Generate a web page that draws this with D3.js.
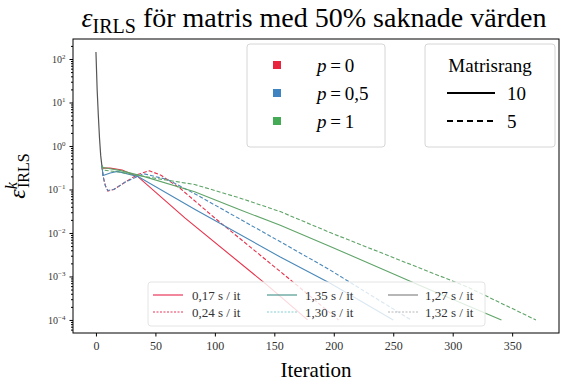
<!DOCTYPE html>
<html lang="sv">
<head>
<meta charset="UTF-8">
<script src="https://d3js.org/d3.v7.min.js"></script>
<style>
  body { margin: 0; background: #fff; }
  svg, svg text { font-family: "Liberation Serif", "DejaVu Serif", serif; }
</style>
</head>
<body>
<div id="chart"></div>
<script>
const serif = "'Liberation Serif', 'DejaVu Serif', serif";

// gemensam start, alla kurvor ligger ovanpå varandra här
const headIter = [0, 1, 2, 3, 4, 5];
const headVal = [145, 20, 5, 1.5, 0.6, 0.35];

// p = 0
const p0r10Iter = [5, 6, 12, 22, 35, 75, 144, 178];
const p0r10Val = [0.35, 0.31, 0.31, 0.28, 0.2, 0.022, 6.3e-4, 1e-4];
const p0r5Iter = [5, 6, 8, 10, 15, 25, 35, 45, 55, 71, 100, 169, 204];
const p0r5Val = [0.35, 0.2, 0.12, 0.092, 0.1, 0.15, 0.22, 0.27, 0.21, 0.105, 0.022, 6.3e-4, 1e-4];
// p = 0,5
const p05r10Iter = [5, 6, 12, 18, 35, 83, 155, 197, 250];
const p05r10Val = [0.35, 0.21, 0.24, 0.26, 0.2, 0.035, 0.0028, 7e-4, 1e-4];
const p05r5Iter = [5, 6, 8, 10, 15, 25, 40, 60, 83, 155, 197, 265];
const p05r5Val = [0.35, 0.2, 0.12, 0.095, 0.1, 0.15, 0.23, 0.17, 0.08, 0.0063, 0.0014, 1e-4];
// p = 1
const p1r10Iter = [5, 6, 20, 40, 83, 120, 155, 197, 272, 341];
const p1r10Val = [0.35, 0.32, 0.275, 0.2, 0.089, 0.035, 0.015, 0.0049, 6.3e-4, 1e-4];
const p1r5Iter = [5, 6, 20, 45, 83, 120, 155, 197, 312, 370];
const p1r5Val = [0.35, 0.28, 0.25, 0.19, 0.13, 0.065, 0.031, 0.0102, 5.8e-4, 1e-4];

const pLabels = ["0", "0,5", "1"];
const rankLabels = ["10", "5"];
const timeLabels = ["0,17 s / it", "0,24 s / it", "1,35 s / it", "1,30 s / it", "1,27 s / it", "1,32 s / it"];
const xTicks = [0, 50, 100, 150, 200, 250, 300, 350];
const yExp = [-4, -3, -2, -1, 0, 1, 2];

const series = [
  { p: "0", rank: "10", iter: p0r10Iter, val: p0r10Val },
  { p: "0", rank: "5", iter: p0r5Iter, val: p0r5Val },
  { p: "0,5", rank: "10", iter: p05r10Iter, val: p05r10Val },
  { p: "0,5", rank: "5", iter: p05r5Iter, val: p05r5Val },
  { p: "1", rank: "10", iter: p1r10Iter, val: p1r10Val },
  { p: "1", rank: "5", iter: p1r5Iter, val: p1r5Val }
];

const pColor = { "0": "#e8243f", "0,5": "#3f84c0", "1": "#45aa55" };
const lineColor = { "0": "#e8304a", "0,5": "#4a88b8", "1": "#5fa468" };
const rankDash = { "10": null, "5": "4,2" };
const timeColor = ["#e8365a", "#e8365a", "#4f9a92", "#86cfd8", "#888888", "#b8b8b8"];

const W = 570, H = 385;
const margin = { top: 39, right: 11, bottom: 52, left: 73 };

const svg = d3.select("#chart").append("svg")
  .attr("width", W).attr("height", H)
  .attr("font-family", serif);

const x = d3.scaleLinear().domain([-19.3, 389.4]).range([margin.left, W - margin.right]);
const y = d3.scaleLog().domain([Math.pow(10, -4.3), Math.pow(10, 2.46)]).range([H - margin.bottom, margin.top]);

svg.append("defs").append("clipPath").attr("id", "clip")
  .append("rect")
  .attr("x", margin.left).attr("y", margin.top)
  .attr("width", W - margin.left - margin.right)
  .attr("height", H - margin.top - margin.bottom);

// axlar
const xAxis = svg.append("g")
  .attr("transform", `translate(0,${H - margin.bottom})`)
  .call(d3.axisBottom(x).tickValues(xTicks).tickSize(3.5).tickPadding(5).tickFormat(d3.format("d")))
  .attr("font-family", serif);
xAxis.select(".domain").remove();
xAxis.selectAll("text").style("font-size", "12px").attr("fill", "#333");

const minor = [];
yExp.concat([-5]).forEach(e => {
  for (let m = 2; m <= 9; m++) {
    const v = m * Math.pow(10, e);
    if (v > y.domain()[0] && v < y.domain()[1]) minor.push(v);
  }
});
svg.append("g")
  .attr("transform", `translate(${margin.left},0)`)
  .call(d3.axisLeft(y).tickValues(minor).tickSize(2).tickFormat(""))
  .select(".domain").remove();

const yAxis = svg.append("g")
  .attr("transform", `translate(${margin.left},0)`)
  .call(d3.axisLeft(y).tickValues(yExp.map(e => Math.pow(10, e))).tickSize(3.5).tickPadding(4).tickFormat(""))
  .attr("font-family", serif);
yAxis.select(".domain").remove();
yAxis.selectAll(".tick text").each(function (d) {
  const t = d3.select(this).attr("fill", "#333").attr("dy", "0.32em");
  const e = Math.round(Math.log10(d));
  t.append("tspan").style("font-size", "10px").text("10");
  t.append("tspan").style("font-size", "7px").attr("dy", "-4")
    .text(e < 0 ? "\u2212" + (-e) : e);
});

// kurvor
const line = d3.line().x(d => x(d[0])).y(d => y(d[1]));
const plot = svg.append("g").attr("clip-path", "url(#clip)");

series.forEach(s => {
  plot.append("path")
    .datum(s.iter.map((it, i) => [it, s.val[i]]))
    .attr("d", line)
    .attr("fill", "none")
    .attr("stroke", lineColor[s.p])
    .attr("stroke-width", 1.1)
    .attr("stroke-dasharray", rankDash[s.rank]);
});
plot.append("path")
  .datum(headIter.map((it, i) => [it, headVal[i]]))
  .attr("d", line)
  .attr("fill", "none")
  .attr("stroke", "#555")
  .attr("stroke-width", 1.2);

svg.append("rect")
  .attr("x", margin.left).attr("y", margin.top)
  .attr("width", W - margin.left - margin.right)
  .attr("height", H - margin.top - margin.bottom)
  .attr("fill", "none").attr("stroke", "#000").attr("stroke-width", 1);

// titel
const title = svg.append("text")
  .attr("x", (margin.left + W - margin.right) / 2 - 2).attr("y", 27)
  .attr("text-anchor", "middle").style("font-size", "28px");
title.append("tspan").style("font-style", "italic").text("ε");
title.append("tspan").style("font-size", "20px").attr("dy", 6).text("IRLS");
title.append("tspan").attr("dy", -6).text(" för matris med 50% saknade värden");

// axeltitlar
svg.append("text")
  .attr("x", (margin.left + W - margin.right) / 2).attr("y", 377)
  .attr("text-anchor", "middle").style("font-size", "21px")
  .text("Iteration");

const yl = svg.append("text")
  .attr("transform", `translate(25,${(margin.top + H - margin.bottom) / 2 - 10}) rotate(-90)`)
  .attr("text-anchor", "middle").style("font-size", "24px");
yl.append("tspan").style("font-style", "italic").text("ε");
yl.append("tspan").style("font-size", "16px").style("font-style", "italic").attr("dy", -8).text("k");
yl.append("tspan").style("font-size", "16px").attr("dx", -6).attr("dy", 12).text("IRLS");

// legend: p
const lg1 = svg.append("g");
lg1.append("rect").attr("x", 247).attr("y", 44).attr("width", 138).attr("height", 103)
  .attr("rx", 3).attr("fill", "#fff").attr("fill-opacity", 0.8).attr("stroke", "#d6d6d6");
pLabels.forEach((p, i) => {
  const cy = 65 + i * 28;
  lg1.append("rect").attr("x", 273).attr("y", cy - 4).attr("width", 8).attr("height", 8)
    .attr("fill", pColor[p]);
  const t = lg1.append("text").attr("x", 317).attr("y", cy + 7).style("font-size", "19px");
  t.append("tspan").style("font-style", "italic").text("p");
  t.append("tspan").text("\u2009=\u2009" + p);
});

// legend: matrisrang
const lg2 = svg.append("g");
lg2.append("rect").attr("x", 425).attr("y", 44).attr("width", 130).attr("height", 103)
  .attr("rx", 3).attr("fill", "#fff").attr("fill-opacity", 0.8).attr("stroke", "#d6d6d6");
lg2.append("text").attr("x", 490).attr("y", 72).attr("text-anchor", "middle")
  .style("font-size", "19px").text("Matrisrang");
rankLabels.forEach((r, i) => {
  const cy = 93 + i * 28;
  lg2.append("line").attr("x1", 447).attr("x2", 495).attr("y1", cy).attr("y2", cy)
    .attr("stroke", "#000").attr("stroke-width", 2)
    .attr("stroke-dasharray", r === "5" ? "6,4" : null);
  lg2.append("text").attr("x", 507).attr("y", cy + 7).style("font-size", "19px").text(r);
});

// legend: tid per iteration
const lg3 = svg.append("g");
lg3.append("rect").attr("x", 148).attr("y", 282).attr("width", 337).attr("height", 44)
  .attr("rx", 3).attr("fill", "#fff").attr("fill-opacity", 0.8).attr("stroke", "#e4e4e4");
timeLabels.forEach((lab, i) => {
  const col = Math.floor(i / 2), row = i % 2;
  const x0 = [153, 267, 388][col], tx = [192, 305, 425][col];
  const cy = 295 + row * 17;
  lg3.append("line").attr("x1", x0).attr("x2", x0 + 30).attr("y1", cy).attr("y2", cy)
    .attr("stroke", timeColor[i]).attr("stroke-width", 1.2)
    .attr("stroke-dasharray", row === 1 ? "2,1.5" : null);
  lg3.append("text").attr("x", tx).attr("y", cy + 4.5).style("font-size", "13px")
    .attr("fill", "#333").text(lab);
});
</script>
</body>
</html>
